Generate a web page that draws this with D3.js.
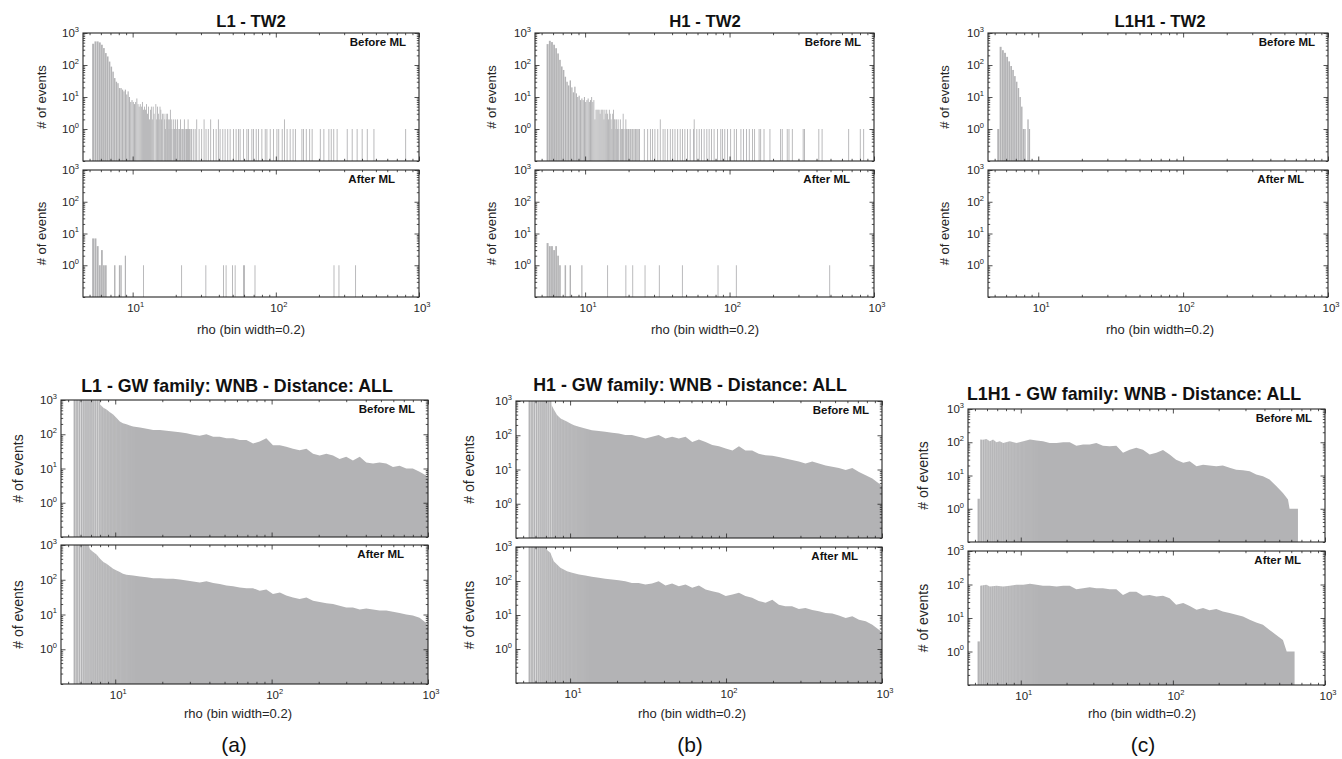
<!DOCTYPE html>
<html>
<head>
<meta charset="utf-8">
<script src="https://cdn.jsdelivr.net/npm/d3@7"></script>
<style>
  body { margin: 0; background: #fff; }
  svg { display: block; font-family: "Liberation Sans", Arial, Helvetica, sans-serif; }
</style>
</head>
<body>
<svg id="chart" width="1342" height="759"></svg>
<script>
// ---- shared values ----
const binWidth = 0.2;
const rhoRange = [4.5, 1000];
const countRange = [0.1, 1000];
const xMajor = [10, 100, 1000];
const yMajor = [1, 10, 100, 1000];
const panelTags = ["(a)", "(b)", "(c)"];
const twTitles = ["L1 - TW2", "H1 - TW2", "L1H1 - TW2"];
const wnbTitles = ["L1 - GW family: WNB - Distance: ALL",
                   "H1 - GW family: WNB - Distance: ALL",
                   "L1H1 - GW family: WNB - Distance: ALL"];
const stageNames = ["Before ML", "After ML"];
const xTitle = "rho (bin width=0.2)";
const yTitle = "# of events";

// ---- TW2 (top row): consecutive low-rho bins, then isolated bins ----
const l1TwBeforeStart = 5.2;
const l1TwBeforeLow = [461, 546, 546, 508, 430, 338, 236, 185, 128, 89,
  62, 39, 30, 27, 19, 19, 17, 15, 17, 12,
  15, 10, 7, 8, 7, 6, 7, 9, 6, 5,
  6, 5, 7, 4, 5, 4, 6, 3, 5, 2,
  4, 5, 2, 5, 3, 0, 6, 2, 5, 3,
  2, 5, 4, 2, 3, 0, 3, 2, 1, 3,
  2, 3, 2, 1, 2, 4, 1, 2, 0, 1,
  2, 1, 1, 2, 1, 0, 2, 1, 0, 1,
  1, 2, 1, 0, 1, 1, 0, 1, 2, 1,
  0, 1, 1, 0, 1, 2, 1, 0, 1, 1];
const l1TwBeforeOnes = [25.6, 26.3, 27.1, 28.9, 30.1, 32.3, 33.5, 36.4, 38.0, 40.5,
  42.3, 43.9, 45.8, 47.6, 50.2, 52.4, 54.4, 55.9, 59.0, 62.3, 64.0, 67.5, 69.3,
  72.4, 75.2, 79.3, 83.7, 86.0, 90.7, 95.7, 101, 104, 110, 119, 125, 131, 136,
  151, 155, 162, 171, 178, 203, 215, 233, 242, 252, 266, 313, 339, 367, 398, 432, 481, 801];
const l1TwBeforeTwos = [27.8, 31.3, 34.8, 39.4, 114];

const l1TwAfterOnes = [5.8, 6.2, 6.4, 7.4, 8.0, 8.2, 11.8, 21.8, 32.2, 42.8, 44.6,
  49.4, 51.6, 59.0, 60.0, 71.0, 253, 274, 358];
const l1TwAfterMore = [[5.2, 7], [5.4, 7], [5.6, 4], [6.0, 3], [8.8, 2]];

const h1TwBeforeStart = 5.4;
const h1TwBeforeLow = [450, 570, 520,
  430, 335, 230, 145, 90,
  70, 43, 30, 23, 33,
  20, 14, 21, 13, 10,
  11, 8, 9, 8, 10,
  7, 8, 9, 7, 8,
  10, 7, 8, 2, 4,
  4, 4, 4, 3, 4, 4, 4, 2, 4, 3,
  4, 3, 2, 4, 3, 2, 1, 3, 4, 2,
  2, 1, 2, 1, 2, 1, 0, 2, 1, 1,
  1, 3, 1, 0, 1, 2, 1, 0, 1, 1,
  1, 0, 1, 1, 0, 1, 1, 0, 1, 0, 1, 1, 0, 1, 0, 1, 0, 1, 1, 0];
const h1TwBeforeOnes = [25.5, 26.9, 28.1, 29.1, 30.2, 31.6, 34.4, 35.5, 37.0, 38.6,
  40.1, 41.6, 43.4, 45.2, 46.9, 48.7, 50.8, 53.0, 55.9, 58.9, 61.2, 63.5, 66.2,
  69.1, 71.7, 74.4, 77.6, 81.9, 86.3, 88.6, 92.0, 96.0, 101, 107, 111, 119, 124,
  130, 136, 143, 148, 159, 163, 172, 189, 224, 230, 249, 256, 270, 321, 328, 412,
  434, 663, 798, 842];
const h1TwBeforeTwos = [32.9, 56.5];

const h1TwAfterOnes = [6.6, 7.2, 7.8, 9.4, 14.2, 19.0, 21.2, 25.8, 32.4, 46.8, 82.6, 110.6, 490];
const h1TwAfterMore = [[5.4, 5], [5.6, 4], [5.8, 4], [6.0, 3], [6.2, 4], [6.4, 2]];

const l1h1TwBeforeStart = 5.2;
const l1h1TwBeforeLow = [1, 370, 290, 240, 180, 130, 93, 70, 45, 30, 19, 10, 5, 1, 1, 0, 2, 1];
const l1h1TwAfterOnes = [];
const l1h1TwAfterMore = [];

// ---- WNB (bottom row): first 0.2-wide bins, then the outline as [rho, count] ----
const l1WnbBeforeStart = 5.4;
const l1WnbBeforeBins = [2600, 3400, 3300, 3000, 2700, 2400, 2100, 1900, 1700, 1500, 1350, 1200, 1100];
const l1WnbBeforeEdge = [[8.0, 745], [8.4, 590], [8.8, 530], [9.2, 450],
  [9.7, 375], [10.2, 300], [10.7, 237], [11.2, 211], [11.8, 197], [12.4, 181],
  [13.0, 169], [14.4, 158], [15.9, 144], [17.5, 134], [19.3, 134], [21.3, 126],
  [23.5, 120], [25.9, 114], [28.6, 107], [31.5, 96], [34.7, 91], [38.3, 100],
  [42.3, 85], [46.6, 85], [51.4, 76], [56.7, 76], [62.5, 68], [69, 68], [76.1, 54],
  [83.9, 61], [92.5, 76], [102, 48], [113, 48], [124, 43], [137, 38], [151, 34],
  [167, 38], [184, 27], [203, 24], [224, 27], [247, 24], [272, 19], [300, 22],
  [331, 17], [366, 22], [403, 15], [445, 14], [490, 15], [541, 14], [597, 11],
  [658, 12], [726, 10], [800, 10], [883, 8], [974, 6.2], [1000, 4.5]];
const l1WnbAfterStart = 5.4;
const l1WnbAfterBins = [2800, 3300, 2600, 2000, 1600, 1300, 1050];
const l1WnbAfterEdge = [[6.8, 900], [6.9, 760], [7.2, 640], [7.6, 530], [8.0, 405],
  [8.4, 325], [8.8, 290], [9.2, 250], [9.7, 208], [10.2, 185], [10.7, 166],
  [11.2, 148], [11.8, 139], [13.0, 133], [14.4, 124], [15.9, 118], [17.5, 111],
  [19.3, 111], [21.3, 106], [23.5, 106], [25.9, 101], [28.6, 95], [31.5, 89],
  [34.7, 84], [38.3, 90], [42.3, 81], [46.6, 75], [51.4, 68], [56.7, 65], [62.5, 60],
  [69, 57], [76.1, 57], [83.9, 48], [92.5, 52], [102, 39], [113, 43], [124, 35],
  [137, 31], [151, 28], [167, 31], [184, 25], [203, 23], [224, 21], [247, 20],
  [272, 18], [300, 16], [331, 16], [366, 14], [403, 15], [445, 14], [490, 13],
  [541, 13], [597, 12], [658, 11], [726, 10], [800, 9.4], [883, 8], [974, 5.7], [1000, 4.2]];

const h1WnbBeforeStart = 5.4;
const h1WnbBeforeBins = [2600, 3300, 3200, 2900, 2600, 2300, 2000, 1800, 1600, 1400, 1150];
const h1WnbBeforeEdge = [[7.6, 764], [7.9, 546], [8.25, 389], [8.7, 309], [9.1, 277], [9.6, 247],
  [10.05, 221], [10.6, 197], [11.4, 176], [12.5, 158], [13.8, 141], [15.3, 134],
  [16.8, 126], [18.6, 118], [20.5, 113], [22.6, 101], [24.9, 101], [27.5, 90],
  [30.4, 81], [33.5, 90], [37, 101], [40.9, 81], [45.1, 90], [49.8, 81], [55, 90],
  [60.7, 64], [67, 75], [73.9, 64], [81.6, 52], [90.1, 48], [99.5, 41], [110, 36],
  [121, 48], [133, 36], [147, 36], [162, 29], [179, 26], [198, 25], [218, 23],
  [240, 21], [265, 19], [293, 17], [323, 15], [357, 17], [394, 15], [435, 13],
  [480, 12], [529, 11], [585, 9.6], [645, 11], [712, 8.5], [786, 6.8], [867, 5.5],
  [956, 3.9], [1000, 3.3]];
const h1WnbAfterStart = 5.4;
const h1WnbAfterBins = [2500, 3100, 2900, 2600, 2200, 1900, 1500, 1200];
const h1WnbAfterEdge = [[7.0, 900], [7.2, 780], [7.48, 677],
  [7.86, 383], [8.25, 307], [8.67, 245], [9.11, 218], [9.56, 195], [10.3, 174],
  [11.4, 155], [12.5, 145], [13.8, 133], [15.3, 124], [16.8, 116], [18.6, 111],
  [20.5, 106], [22.6, 99], [24.9, 88], [27.5, 88], [30.4, 79], [33.5, 84], [37, 99],
  [40.9, 74], [45.1, 84], [49.8, 70], [55, 79], [60.7, 63], [67, 74], [73.9, 56],
  [81.6, 50], [90.1, 45], [99.5, 36], [110, 40], [121, 45], [133, 36], [147, 32],
  [162, 26], [179, 23], [198, 28], [218, 20], [240, 18], [265, 18], [293, 15],
  [323, 16], [357, 14], [394, 13], [435, 11.5], [480, 11], [529, 9.6], [585, 8.2],
  [645, 9.2], [712, 7.3], [786, 6.5], [867, 5.2], [956, 3.7], [1000, 3.1]];

const l1h1WnbBeforeStart = 5.2;
const l1h1WnbBeforeBins = [2];
const l1h1WnbBeforeEdge = [[5.4, 120], [5.65, 118], [5.95, 126], [6.26, 107],
  [6.58, 120], [6.92, 100], [7.28, 107], [7.66, 95], [8.47, 107], [9.37, 95],
  [10.4, 107], [11.5, 120], [12.7, 112], [14, 107], [15.5, 95], [17.2, 95], [19, 100],
  [21, 100], [23.2, 79], [25.7, 85], [28.4, 85], [31.4, 95], [34.7, 79], [38.4, 76],
  [42.5, 79], [47, 48], [52, 60], [57.5, 68], [63.6, 60], [70.4, 43], [77.9, 48],
  [86.1, 58], [95.2, 43], [105, 30], [117, 24], [129, 27], [143, 19], [158, 21],
  [174, 20], [193, 19], [213, 20], [236, 17], [261, 15], [289, 14.5], [320, 13.5],
  [353, 10.7], [391, 9.5], [432, 7.6], [478, 4.8], [529, 3], [571, 1.9], [585, 1], [664, 1]];
const l1h1WnbAfterStart = 5.2;
const l1h1WnbAfterBins = [2];
const l1h1WnbAfterEdge = [[5.4, 91], [5.95, 98], [6.26, 87], [6.92, 91],
  [7.66, 87], [8.47, 91], [9.37, 98], [10.4, 98], [11.5, 105], [12.7, 98], [14, 91],
  [15.5, 91], [17.2, 87], [19, 91], [21, 91], [23.2, 72], [25.7, 77], [28.4, 83],
  [31.4, 77], [34.7, 77], [38.4, 72], [42.5, 72], [47, 49], [52, 61], [57.5, 61],
  [63.6, 46], [70.4, 49], [77.9, 44], [86.1, 46], [95.2, 39], [105, 25], [117, 28],
  [129, 23], [143, 17.5], [158, 20], [174, 17], [193, 18.5], [213, 15.6], [236, 14],
  [261, 12.4], [289, 11], [320, 8.8], [353, 7.3], [391, 6.3], [432, 4.4], [478, 3.1],
  [529, 2.2], [560, 1], [631, 1]];

// ---- helpers to turn the arrays into bars ----
function bins(start, counts) {
  return counts.map((n, i) => ({ r0: start + i * binWidth, r1: start + (i + 1) * binWidth, n }));
}
function twBins(start, low, ones, more) {
  const out = bins(start, low);
  ones.forEach(r => out.push({ r0: r, r1: r + binWidth, n: 1 }));
  more.forEach(([r, n]) => out.push({ r0: r, r1: r + binWidth, n }));
  return out.filter(d => d.n > 0);
}
function twTwos(list) { return list.map(r => [r, 2]); }

const ink = "#262626";
const barFill = "#b3b3b5";
const svg = d3.select("#chart");

function supLabel(sel, exp, baseSize, supSize) {
  sel.append("tspan").text("10").attr("font-size", baseSize);
  sel.append("tspan").text(exp).attr("font-size", supSize).attr("dy", -baseSize * 0.45);
}

function subplot(o) {
  const g = svg.append("g");
  const x = d3.scaleLog().domain(rhoRange).range([o.left, o.right]);
  const y = d3.scaleLog().domain(countRange).range([o.bottom, o.top]).clamp(true);
  const base = y(countRange[0]);
  const fill = o.fillRatio;

  // separate bins
  g.append("g").selectAll("rect").data(o.bars).join("rect")
    .attr("x", d => x(d.r0) + (1 - fill) * 0.5 * Math.min(2.5, x(d.r1) - x(d.r0)))
    .attr("width", d => Math.max((x(d.r1) - x(d.r0)) * fill, o.minW))
    .attr("y", d => y(d.n))
    .attr("height", d => base - y(d.n))
    .attr("fill", barFill);

  // dense outline as a filled area
  if (o.edge && o.edge.length) {
    const area = d3.area().x(d => x(d[0])).y0(base).y1(d => y(d[1]));
    g.append("path").datum(o.edge).attr("d", area).attr("fill", barFill);
  }

  // white bin edges, fading out as the bins get narrower on screen
  if (o.edges) {
    g.append("g").selectAll("line").data(d3.range(o.edges[0], o.edges[1], binWidth)).join("line")
      .attr("x1", d => x(d)).attr("x2", d => x(d))
      .attr("y1", o.top).attr("y2", o.bottom)
      .attr("stroke", "#fff").attr("stroke-width", 0.45)
      .attr("stroke-opacity", d => Math.max(0, Math.min(0.85, (x(d + binWidth) - x(d) - 0.9) / 1.8)));
  }

  // ticks (minor + major) on all four sides, pointing inward
  const xMinor = x.ticks().filter(v => !xMajor.includes(v));
  const yMinor = y.ticks().filter(v => !yMajor.includes(v));
  const tickStyle = a => a.call(s => s.select(".domain").remove())
    .call(s => s.selectAll("line").attr("stroke", ink).attr("stroke-width", 0.8))
    .call(s => s.selectAll("text").remove());
  const axes = [
    [d3.axisBottom(x), `translate(0,${o.bottom})`, xMinor, xMajor],
    [d3.axisTop(x), `translate(0,${o.top})`, xMinor, xMajor],
    [d3.axisLeft(y), `translate(${o.left},0)`, yMinor, yMajor],
    [d3.axisRight(y), `translate(${o.right},0)`, yMinor, yMajor]
  ];
  axes.forEach(([ax, tr, minor, major]) => {
    g.append("g").attr("transform", tr).call(ax.tickValues(minor).tickSize(-2.2)).call(tickStyle);
    g.append("g").attr("transform", tr).call(ax.tickValues(major).tickSize(-4.5)).call(tickStyle);
  });

  g.append("rect")
    .attr("x", o.left).attr("y", o.top)
    .attr("width", o.right - o.left).attr("height", o.bottom - o.top)
    .attr("fill", "none").attr("stroke", ink).attr("stroke-width", 1.1);

  // y tick labels
  yMajor.forEach(v => {
    const t = g.append("text").attr("x", o.left - 4).attr("y", y(v) + 4)
      .attr("text-anchor", "end").attr("fill", ink);
    supLabel(t, Math.round(Math.log10(v)), 11.5, 7.5);
  });

  // x tick labels
  if (o.xLabels) {
    xMajor.forEach(v => {
      const t = g.append("text").attr("x", x(v) + 3).attr("y", o.bottom + 15)
        .attr("text-anchor", "middle").attr("fill", ink);
      supLabel(t, Math.round(Math.log10(v)), 11.5, 7.5);
    });
  }

  // stage tag
  g.append("text")
    .attr("x", o.right - (o.stage === 0 ? 13 : 24)).attr("y", o.top + 12.5)
    .attr("text-anchor", "end").attr("font-weight", "bold").attr("font-size", 11.5)
    .attr("fill", "#111").text(stageNames[o.stage]);

  // y title
  g.append("text")
    .attr("transform", `translate(${o.ylabX},${(o.top + o.bottom) / 2}) rotate(-90)`)
    .attr("text-anchor", "middle").attr("font-size", o.ylabSize).attr("fill", ink)
    .text(yTitle);
}

// ---- top row (TW2) ----
const twData = [
  [twBins(l1TwBeforeStart, l1TwBeforeLow, l1TwBeforeOnes, twTwos(l1TwBeforeTwos)),
   twBins(0, [], l1TwAfterOnes, l1TwAfterMore)],
  [twBins(h1TwBeforeStart, h1TwBeforeLow, h1TwBeforeOnes, twTwos(h1TwBeforeTwos)),
   twBins(0, [], h1TwAfterOnes, h1TwAfterMore)],
  [twBins(l1h1TwBeforeStart, l1h1TwBeforeLow, [], []),
   twBins(0, [], l1h1TwAfterOnes, l1h1TwAfterMore)]
];
const twFrames = [
  { left: 83, right: 419, ylabX: 46, titleX: 251, xlabX: 251 },
  { left: 535, right: 874, ylabX: 496, titleX: 705, xlabX: 705 },
  { left: 988, right: 1328, ylabX: 949, titleX: 1160, xlabX: 1160 }
];
twFrames.forEach((f, i) => {
  [[33, 161], [170, 297]].forEach(([top, bottom], s) => {
    subplot({ left: f.left, right: f.right, top, bottom, bars: twData[i][s], stage: s,
      fillRatio: 0.86, minW: 0.9, xLabels: s === 1, ylabX: f.ylabX, ylabSize: 13 });
  });
  svg.append("text").attr("x", f.titleX).attr("y", 27).attr("text-anchor", "middle")
    .attr("font-weight", "bold").attr("font-size", 16.7).attr("fill", "#111").text(twTitles[i]);
  svg.append("text").attr("x", f.xlabX).attr("y", 334).attr("text-anchor", "middle")
    .attr("font-size", 13).attr("fill", ink).text(xTitle);
});

// ---- bottom row (WNB) ----
const wnbData = [
  [[bins(l1WnbBeforeStart, l1WnbBeforeBins), l1WnbBeforeEdge], [bins(l1WnbAfterStart, l1WnbAfterBins), l1WnbAfterEdge]],
  [[bins(h1WnbBeforeStart, h1WnbBeforeBins), h1WnbBeforeEdge], [bins(h1WnbAfterStart, h1WnbAfterBins), h1WnbAfterEdge]],
  [[bins(l1h1WnbBeforeStart, l1h1WnbBeforeBins), l1h1WnbBeforeEdge], [bins(l1h1WnbAfterStart, l1h1WnbAfterBins), l1h1WnbAfterEdge]]
];
const wnbFrames = [
  { left: 61, right: 428, rows: [[400, 537], [545, 684]], ylabX: 23, titleX: 237, titleY: 392, xlabX: 238, tagX: 234, edges: [5.4, 20] },
  { left: 516, right: 882, rows: [[401, 538], [547, 683]], ylabX: 474, titleX: 690, titleY: 391, xlabX: 692, tagX: 690, edges: [5.4, 20] },
  { left: 968, right: 1325, rows: [[409, 542], [551, 685]], ylabX: 928, titleX: 1134, titleY: 400, xlabX: 1142, tagX: 1143, edges: [5.4, 22] }
];
wnbFrames.forEach((f, i) => {
  f.rows.forEach(([top, bottom], s) => {
    subplot({ left: f.left, right: f.right, top, bottom, bars: wnbData[i][s][0], edge: wnbData[i][s][1],
      stage: s, fillRatio: 1, minW: 0, edges: f.edges, xLabels: s === 1, ylabX: f.ylabX, ylabSize: 14 });
  });
  svg.append("text").attr("x", f.titleX).attr("y", f.titleY).attr("text-anchor", "middle")
    .attr("font-weight", "bold").attr("font-size", 17.8).attr("fill", "#111").text(wnbTitles[i]);
  svg.append("text").attr("x", f.xlabX).attr("y", 718).attr("text-anchor", "middle")
    .attr("font-size", 13).attr("fill", ink).text(xTitle);
  svg.append("text").attr("x", f.tagX).attr("y", 752).attr("text-anchor", "middle")
    .attr("font-size", 21).attr("fill", "#111").text(panelTags[i]);
});
</script>
</body>
</html>
